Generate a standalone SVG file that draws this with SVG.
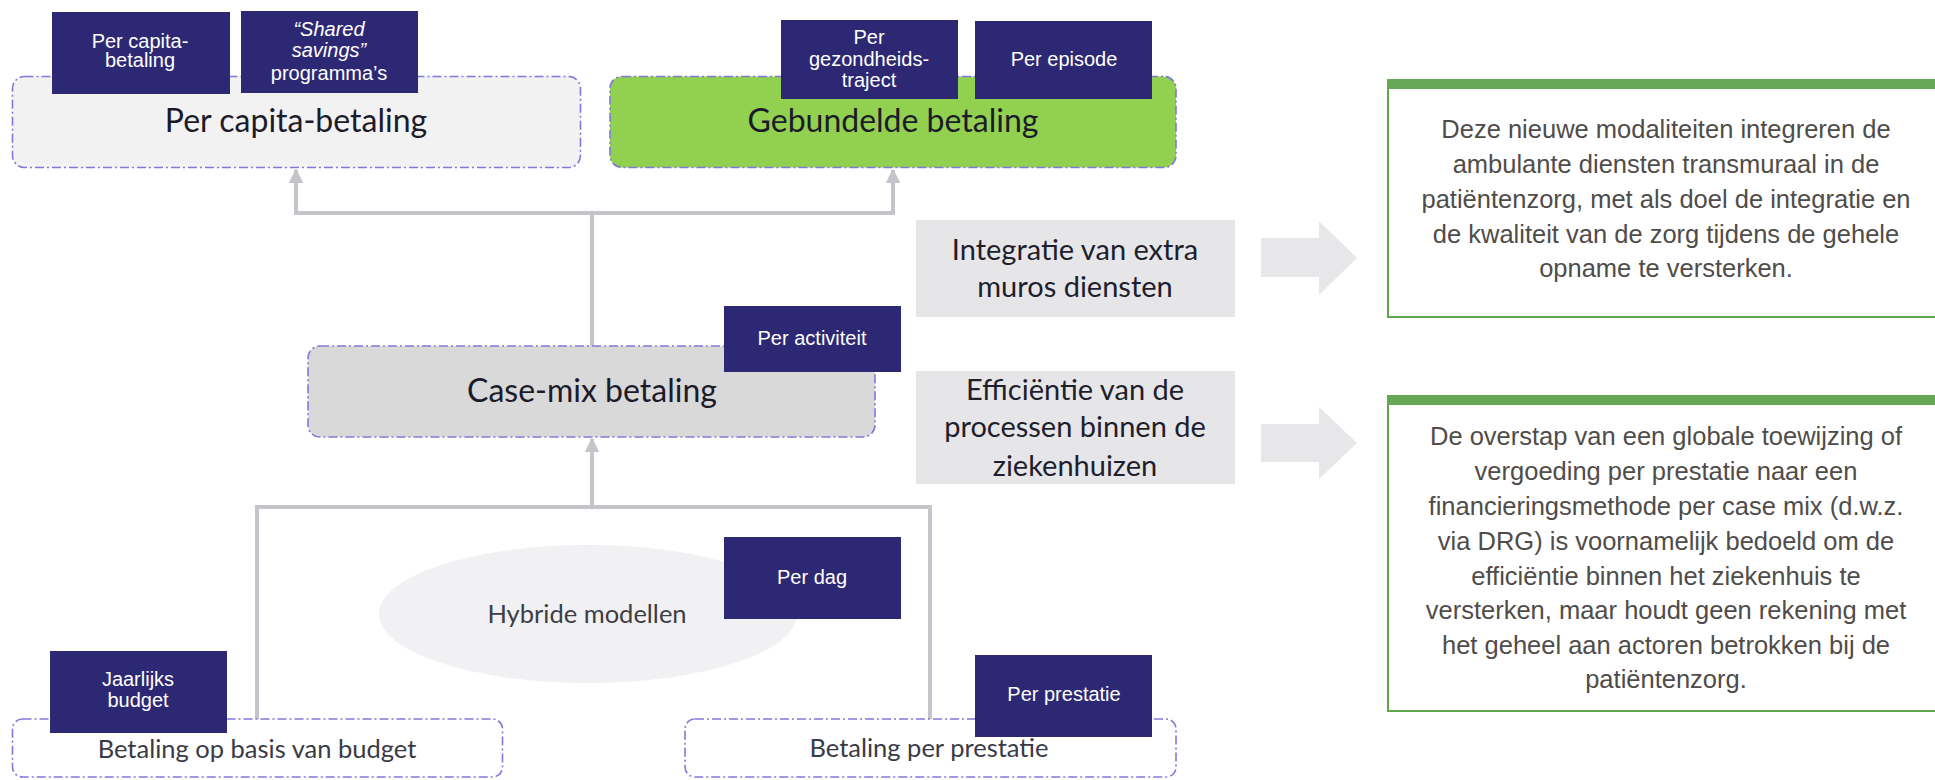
<svg xmlns="http://www.w3.org/2000/svg" width="1935" height="780" viewBox="0 0 1935 780">
<defs>
<style>
.cat{stroke:#8079d8;stroke-width:1.6;stroke-dasharray:9 3 2 3}
.tag{fill:#2d2874}
.tagt{font-family:"Liberation Sans",Arial,sans-serif;font-size:20px;fill:#ffffff;text-anchor:middle}
.main{font-family:Lato,"Noto Sans",sans-serif;font-size:32px;fill:#1b1b29;text-anchor:middle}
.sub{font-family:Lato,"Noto Sans",sans-serif;font-size:25.5px;fill:#3a3a46;text-anchor:middle}
.lbl{fill:#e6e6e9}
.lblt{font-family:Lato,"Noto Sans",sans-serif;font-size:29px;fill:#1e1e2c;text-anchor:middle}
.conn{fill:none;stroke:#c4c4ca;stroke-width:4}
.note{fill:#ffffff;stroke:#5ea64c;stroke-width:2}
.bar{fill:#66a856}
.notet{font-family:"Liberation Sans",Arial,sans-serif;font-size:25.5px;fill:#4f4c4a;text-anchor:middle}
</style>
<marker id="ah" viewBox="0 0 10 10" refX="9" refY="5" markerWidth="3.6" markerHeight="3.6" orient="auto" markerUnits="strokeWidth">
<path d="M0,0 L10,5 L0,10 z" fill="#c4c4ca"/>
</marker>
</defs>

<g id="ellipse-hybride">
<ellipse cx="588" cy="614" rx="209" ry="69" fill="#f1f1f3"/>
<text x="587" y="623" class="sub" style="fill:#3d3d45">Hybride modellen</text>
</g>

<g id="connectors">
<path class="conn" d="M296,213 V170" marker-end="url(#ah)"/>
<path class="conn" d="M893,213 V170" marker-end="url(#ah)"/>
<path class="conn" d="M294,213 H895"/>
<path class="conn" d="M592,213 V346"/>
<path class="conn" d="M592,507 V439" marker-end="url(#ah)"/>
<path class="conn" d="M257,719 V507 H930 V719"/>
</g>

<g id="node-per-capita">
<rect x="12.5" y="76.5" width="568" height="91" rx="12" fill="#f2f2f2" class="cat"/>
<text x="296" y="132" class="main">Per capita-betaling</text>
</g>
<g id="tag-per-capita">
<rect x="52" y="12" width="178" height="82" class="tag"/>
<text x="140" y="48" class="tagt">Per capita-</text>
<text x="140" y="67" class="tagt">betaling</text>
</g>
<g id="tag-shared-savings">
<rect x="241" y="11" width="177" height="82" class="tag"/>
<text x="329" y="36" class="tagt" font-style="italic">“Shared</text>
<text x="329" y="57" class="tagt" font-style="italic">savings”</text>
<text x="329" y="80" class="tagt">programma’s</text>
</g>

<g id="node-gebundelde">
<rect x="610" y="76.5" width="566" height="91" rx="12" fill="#92d050" class="cat"/>
<text x="893" y="132" class="main">Gebundelde betaling</text>
</g>
<g id="tag-gezondheidstraject">
<rect x="781" y="20" width="177" height="79" class="tag"/>
<text x="869" y="44" class="tagt">Per</text>
<text x="869" y="66" class="tagt">gezondheids-</text>
<text x="869" y="87" class="tagt">traject</text>
</g>
<g id="tag-episode">
<rect x="975" y="21" width="177" height="78" class="tag"/>
<text x="1064" y="66" class="tagt">Per episode</text>
</g>

<g id="node-case-mix">
<rect x="308" y="346" width="567" height="91" rx="12" fill="#d9d9d9" class="cat"/>
<text x="592" y="402" class="main">Case-mix betaling</text>
</g>
<g id="tag-activiteit">
<rect x="724" y="306" width="177" height="66" class="tag"/>
<text x="812" y="345" class="tagt">Per activiteit</text>
</g>

<g id="tag-dag">
<rect x="724" y="537" width="177" height="82" class="tag"/>
<text x="812" y="584" class="tagt">Per dag</text>
</g>

<g id="node-budget">
<rect x="12.5" y="719" width="490" height="58" rx="10" fill="#ffffff" class="cat"/>
<text x="257" y="758" class="sub">Betaling op basis van budget</text>
</g>
<g id="tag-jaarlijks">
<rect x="50" y="651" width="177" height="82" class="tag"/>
<text x="138" y="686" class="tagt">Jaarlijks</text>
<text x="138" y="707" class="tagt">budget</text>
</g>

<g id="node-prestatie">
<rect x="685" y="719" width="491" height="58" rx="10" fill="#ffffff" class="cat"/>
<text x="929" y="757" class="sub">Betaling per prestatie</text>
</g>
<g id="tag-prestatie">
<rect x="975" y="655" width="177" height="82" class="tag"/>
<text x="1064" y="701" class="tagt">Per prestatie</text>
</g>

<g id="label-integratie">
<rect x="916" y="220" width="319" height="97" class="lbl"/>
<text x="1075" y="260" class="lblt">Integratie van extra</text>
<text x="1075" y="297" class="lblt">muros diensten</text>
</g>
<g id="label-efficientie">
<rect x="916" y="371" width="319" height="113" class="lbl"/>
<text x="1075" y="400" class="lblt">Efficiëntie van de</text>
<text x="1075" y="437" class="lblt">processen binnen de</text>
<text x="1075" y="476" class="lblt">ziekenhuizen</text>
</g>

<g id="arrow-1">
<path d="M1261,238 H1319 V221 L1357,258 L1319,295 V277 H1261 z" fill="#e7e7ea"/>
</g>
<g id="arrow-2">
<path d="M1261,424 H1319 V407 L1357,443 L1319,479 V462 H1261 z" fill="#e7e7ea"/>
</g>

<g id="note-1">
<rect x="1388" y="80" width="560" height="237" class="note"/>
<rect x="1387" y="79" width="560" height="10" class="bar"/>
<text class="notet"><tspan x="1666" y="138">Deze nieuwe modaliteiten integreren de</tspan><tspan x="1666" y="173">ambulante diensten transmuraal in de</tspan><tspan x="1666" y="208">patiëntenzorg, met als doel de integratie en</tspan><tspan x="1666" y="243">de kwaliteit van de zorg tijdens de gehele</tspan><tspan x="1666" y="277">opname te versterken.</tspan></text>
</g>
<g id="note-2">
<rect x="1388" y="396" width="560" height="315" class="note"/>
<rect x="1387" y="395" width="560" height="10" class="bar"/>
<text class="notet"><tspan x="1666" y="445">De overstap van een globale toewijzing of</tspan><tspan x="1666" y="480">vergoeding per prestatie naar een</tspan><tspan x="1666" y="515">financieringsmethode per case mix (d.w.z.</tspan><tspan x="1666" y="550">via DRG) is voornamelijk bedoeld om de</tspan><tspan x="1666" y="585">efficiëntie binnen het ziekenhuis te</tspan><tspan x="1666" y="619">versterken, maar houdt geen rekening met</tspan><tspan x="1666" y="654">het geheel aan actoren betrokken bij de</tspan><tspan x="1666" y="688">patiëntenzorg.</tspan></text>
</g>
</svg>
